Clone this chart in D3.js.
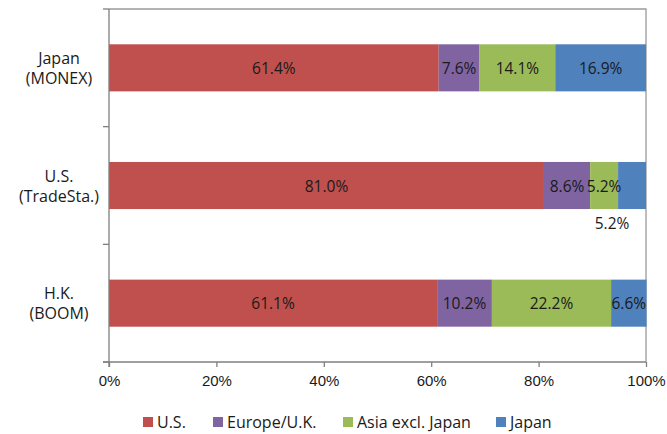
<!DOCTYPE html>
<html><head><meta charset="utf-8">
<script src="https://cdn.jsdelivr.net/npm/d3@7/dist/d3.min.js"></script>
<style>
body{margin:0;background:#fff;}
svg{display:block;font-family:"Open Sans","DejaVu Sans",sans-serif;}
</style></head><body>
<svg id="c" width="667" height="434"></svg>
<script>
const categories = ["Japan\n(MONEX)", "U.S.\n(TradeSta.)", "H.K.\n(BOOM)"];
const seriesNames = ["U.S.", "Europe/U.K.", "Asia excl. Japan", "Japan"];
const usValues = [61.4, 81.0, 61.1];
const europeValues = [7.6, 8.6, 10.2];
const asiaValues = [14.1, 5.2, 22.2];
const japanValues = [16.9, 5.2, 6.6];
const xTicks = [0, 20, 40, 60, 80, 100];
const colors = ["#C0504D", "#8064A2", "#9BBB59", "#4F81BD"];

const series = [usValues, europeValues, asiaValues, japanValues];
const rows = categories.map((c, i) => {
  const o = {cat: c};
  seriesNames.forEach((s, j) => o[s] = series[j][i]);
  return o;
});
const stacked = d3.stack().keys(seriesNames)(rows);

const svg = d3.select("#c");
const m = {l: 109, r: 646, t: 9, b: 362};
const x = d3.scaleLinear().domain([0, 100]).range([m.l, m.r]);
const y = d3.scaleBand().domain(categories).range([m.t, m.b]).paddingInner(0.6).paddingOuter(0.3);
const yb = d3.scaleBand().domain(categories).range([m.t, m.b]);

// plot border (top & right)
svg.append("path").attr("d", `M${m.l},${m.t}H${m.r}V${m.b}`)
  .attr("fill", "none").attr("stroke", "#9a9a9a").attr("stroke-width", 1.3);

// bars
const g = svg.append("g");
stacked.forEach((layer, j) => {
  g.selectAll(null).data(layer).enter().append("rect")
    .attr("x", d => x(d[0]))
    .attr("y", d => y(d.data.cat))
    .attr("width", d => x(d[1]) - x(d[0]))
    .attr("height", y.bandwidth())
    .attr("fill", colors[j]);
});

// labels
stacked.forEach((layer, j) => {
  layer.forEach((d, i) => {
    let cx = (x(d[0]) + x(d[1])) / 2;
    let cy = y(d.data.cat) + y.bandwidth() / 2;
    // the small Japan slice in the U.S. row has its label moved below the bar
    if (j === 3 && i === 1) { cx -= 20; cy += y.bandwidth() / 2 + 14; }
    svg.append("text").attr("x", cx).attr("y", cy)
      .attr("text-anchor", "middle").attr("dominant-baseline", "central")
      .attr("font-size", 15.5).attr("fill", "#1a1a1a")
      .text(series[j][i].toFixed(1) + "%");
  });
});

// x axis
const xa = svg.append("g").attr("transform", `translate(0,${m.b})`)
  .call(d3.axisBottom(x).tickValues(xTicks).tickFormat(d => d + "%").tickSize(5).tickSizeOuter(0));
xa.select(".domain").attr("stroke", "#7f7f7f").attr("stroke-width", 1.3).attr("d", `M${m.l - 6},0H${m.r}`);
xa.selectAll(".tick line").attr("stroke", "#7f7f7f").attr("stroke-width", 1.3);
xa.selectAll(".tick text").attr("font-size", 15).attr("fill", "#1a1a1a").attr("dy", "1.05em").attr("font-family", null);

// y axis
svg.append("line").attr("x1", m.l).attr("x2", m.l).attr("y1", m.t).attr("y2", m.b + 5)
  .attr("stroke", "#7f7f7f").attr("stroke-width", 1.3);
const bounds = categories.map(c => yb(c)).concat([m.b]);
svg.selectAll(null).data(bounds).enter().append("line")
  .attr("x1", m.l - 6).attr("x2", m.l).attr("y1", d => d).attr("y2", d => d)
  .attr("stroke", "#7f7f7f").attr("stroke-width", 1.3);
categories.forEach(c => {
  const lines = c.split("\n");
  const cy = y(c) + y.bandwidth() / 2;
  const t = svg.append("text").attr("x", 59).attr("text-anchor", "middle")
    .attr("font-size", 16).attr("fill", "#1a1a1a");
  lines.forEach((ln, k) => {
    t.append("tspan").attr("x", 59).attr("y", cy + (k - (lines.length - 1) / 2) * 20)
      .attr("dominant-baseline", "central").text(ln);
  });
});

// legend
const legX = [143, 213, 343, 496];
const leg = svg.append("g");
seriesNames.forEach((s, j) => {
  leg.append("rect").attr("x", legX[j]).attr("y", 417).attr("width", 10).attr("height", 10).attr("fill", colors[j]);
  leg.append("text").attr("x", legX[j] + 14).attr("y", 422).attr("dominant-baseline", "central")
    .attr("font-size", 16).attr("fill", "#1a1a1a").text(s);
});
</script>
</body></html>
